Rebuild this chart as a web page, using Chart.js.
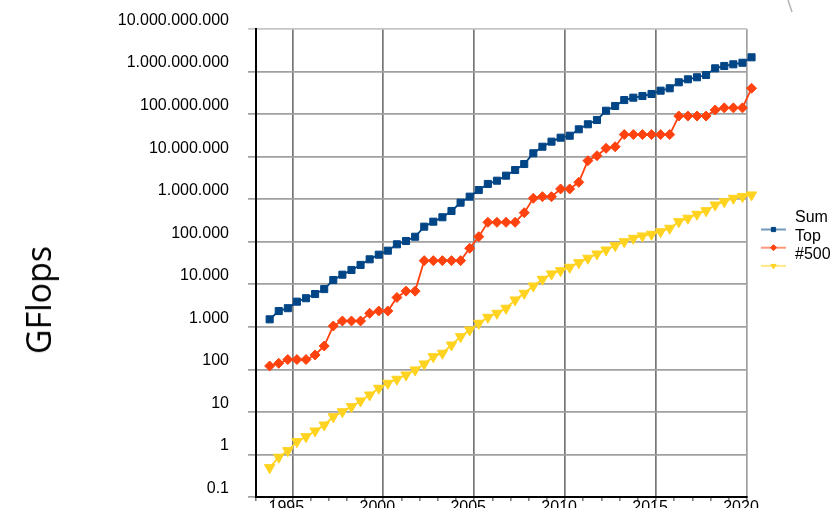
<!DOCTYPE html>
<html>
<head>
<meta charset="utf-8">
<title>TOP500 performance development</title>
<script src="https://cdn.jsdelivr.net/npm/chart.js@4.4.1/dist/chart.umd.min.js"></script>
<style>
  html, body { margin: 0; padding: 0; width: 831px; height: 508px; overflow: hidden; background: #fff; }
  #wrap { position: relative; width: 831px; height: 508px; overflow: hidden; }
  #chart { position: absolute; left: 0; top: 0; }
  #ytitle {
    position: absolute; left: 38px; top: 300px;
    transform: translate(-50%, -50%) rotate(-90deg);
    font-family: "Open Sans", sans-serif; font-size: 34px; line-height: 1;
    color: #000; white-space: nowrap;
  }
</style>
</head>
<body>
<div id="wrap">
  <canvas id="chart" width="831" height="520"></canvas>
  <div id="ytitle">GFlops</div>
</div>
<script>
// TOP500 lists, twice a year: Nov 1993 ... Jun 2020 (54 lists), performance in GFlops
const firstListYear = 1993.75;
const listStep = 0.5;

const sumGflops = [
  1500, 2350, 2740, 3900, 4700, 5900, 7700, 12600, 16800, 21700,
  28500, 38600, 49600, 61600, 87000, 104000, 131000, 226000, 296000, 376000,
  528000, 828000, 1146000, 1640000, 2280000, 2720000, 3570000, 4850000, 6710000, 12000000,
  17100000, 22500000, 27900000, 31000000, 43900000, 57600000, 72700000, 120000000, 155000000, 214000000,
  243000000, 266000000, 297000000, 355000000, 404000000, 559000000, 657000000, 733000000, 829000000, 1190000000,
  1350000000, 1480000000, 1610000000, 2160000000
];

const topGflops = [
  120, 139, 170, 170, 170, 218, 354, 1047, 1372, 1372,
  1372, 2080, 2350, 2350, 4900, 6900, 6900, 35900, 35900, 35900,
  35900, 35900, 70200, 131500, 286000, 286000, 286000, 286000, 482000, 1050000,
  1146000, 1146000, 1740000, 1740000, 2490000, 8030000, 10500000, 15700000, 17100000, 33000000,
  33000000, 33000000, 33000000, 33000000, 33000000, 90000000, 90000000, 90000000, 90000000, 125000000,
  140000000, 140000000, 140000000, 404000000
];

const lastGflops = [
  0.49, 0.86, 1.23, 2.0, 2.62, 3.56, 4.93, 7.7, 10.1, 13.3,
  18.1, 25.0, 36.0, 47.1, 58.5, 73.8, 96.8, 134, 199, 239,
  374, 586, 843, 1210, 1675, 2080, 2730, 4280, 6140, 9120,
  13100, 17500, 20900, 25100, 32200, 40900, 51500, 64000, 80800, 100000,
  120500, 136500, 149600, 172000, 207000, 296000, 356000, 442000, 537000, 731000,
  873000, 1050000, 1150000, 1260000
];

const seriesNames = ['Sum', 'Top', '#500'];
const seriesColors = ['#004586', '#ff420e', '#ffd320'];

// axis ticks
const yearMin = 1993;
const yearMax = 2020;
const yearLabels = { 1995: '1995', 2000: '2000', 2005: '2005', 2010: '2010', 2015: '2015', 2020: '2020' };
const gflopTicks = [0.1, 1, 10, 100, 1e3, 1e4, 1e5, 1e6, 1e7, 1e8, 1e9, 1e10];
const gflopLabels = ['0.1', '1', '10', '100', '1.000', '10.000', '100.000', '1.000.000',
  '10.000.000', '100.000.000', '1.000.000.000', '10.000.000.000'];

const toPoints = (values) => values.map((v, i) => ({ x: firstListYear + i * listStep, y: v }));

// legend at the right: a short line with the series marker, names stacked beside it
const sideLegend = {
  id: 'sideLegend',
  afterDraw(chart, args, opts) {
    const ctx = chart.ctx;
    chart.data.datasets.forEach((ds, i) => {
      const y = opts.top + i * opts.rowGap;
      const cx = opts.left + opts.lineLength / 2;
      ctx.save();
      ctx.globalAlpha = 0.55;
      ctx.strokeStyle = ds.borderColor;
      ctx.lineWidth = 2;
      ctx.beginPath();
      ctx.moveTo(opts.left, y);
      ctx.lineTo(opts.left + opts.lineLength, y);
      ctx.stroke();
      ctx.globalAlpha = 1;
      ctx.fillStyle = ds.backgroundColor;
      ctx.strokeStyle = ds.borderColor;
      ctx.lineWidth = 1;
      Chart.helpers.drawPoint(ctx, {
        pointStyle: ds.pointStyle, rotation: ds.pointRotation || 0,
        radius: opts.markerRadius, borderWidth: 1
      }, cx, y);
      ctx.fillStyle = '#000';
      ctx.font = '16px "Liberation Sans", Arial, sans-serif';
      ctx.textBaseline = 'middle';
      ctx.textAlign = 'left';
      ctx.fillText(ds.label, opts.textX, y - opts.textRise);
      ctx.restore();
    });
    // thin grey stroke at the top right of the slide
    ctx.save();
    ctx.strokeStyle = '#b4b4b4';
    ctx.lineWidth = 1.5;
    ctx.beginPath();
    ctx.moveTo(788, 0);
    ctx.lineTo(792, 12);
    ctx.stroke();
    ctx.restore();
  }
};

const common = { borderWidth: 1.8, pointBorderWidth: 1, clip: false, tension: 0 };

new Chart(document.getElementById('chart'), {
  type: 'line',
  data: {
    datasets: [
      Object.assign({}, common, {
        label: seriesNames[0], data: toPoints(sumGflops),
        borderColor: seriesColors[0], backgroundColor: seriesColors[0],
        pointStyle: 'rect', pointRadius: 5
      }),
      Object.assign({}, common, {
        label: seriesNames[1], data: toPoints(topGflops),
        borderColor: seriesColors[1], backgroundColor: seriesColors[1],
        pointStyle: 'rectRot', pointRadius: 5
      }),
      Object.assign({}, common, {
        label: seriesNames[2], data: toPoints(lastGflops),
        borderColor: seriesColors[2], backgroundColor: seriesColors[2],
        pointStyle: 'triangle', pointRotation: 180, pointRadius: 6
      })
    ]
  },
  options: {
    responsive: false,
    animation: false,
    events: [],
    layout: { padding: { top: 29, right: 84, bottom: 0, left: 0 } },
    plugins: {
      legend: { display: false },
      tooltip: { enabled: false },
      sideLegend: { left: 761, lineLength: 25, top: 229.5, rowGap: 18.2, textX: 795, textRise: 11.5, markerRadius: 3 }
    },
    scales: {
      x: {
        type: 'linear',
        min: yearMin,
        max: yearMax,
        afterBuildTicks(scale) {
          const t = [];
          for (let y = yearMin; y <= yearMax; y++) t.push({ value: y });
          scale.ticks = t;
        },
        afterFit(scale) { scale.height = 23; },
        border: { color: '#000', width: 2 },
        grid: {
          color(ctx) {
            const v = ctx.tick && ctx.tick.value;
            if (v === yearMax) return '#a0a0a0';
            return v % 5 === 0 ? '#767676' : 'rgba(0,0,0,0)';
          },
          lineWidth: 1.7,
          tickColor: '#555',
          tickWidth: 1.2,
          tickLength: 4
        },
        ticks: {
          autoSkip: false,
          maxRotation: 0,
          padding: -1,
          labelOffset: -6,
          color: '#000',
          font: { family: '"Liberation Sans", Arial, sans-serif', size: 16, lineHeight: 1 },
          callback: (v) => yearLabels[v] || ''
        }
      },
      y: {
        type: 'logarithmic',
        min: 0.1,
        max: 1e10,
        afterBuildTicks(scale) { scale.ticks = gflopTicks.map(v => ({ value: v })); },
        afterFit(scale) {
          scale.width = 256;
          scale.paddingTop = 0;
          scale.paddingBottom = 0;
        },
        border: { color: '#000', width: 2 },
        grid: {
          color(ctx) {
            const v = ctx.tick && ctx.tick.value;
            return v === 1e10 ? '#c6c6c6' : '#a0a0a0';
          },
          lineWidth: 1.7,
          tickLength: 8
        },
        ticks: {
          autoSkip: false,
          padding: 19,
          labelOffset: -8.5,
          color: '#000',
          font: { family: '"Liberation Sans", Arial, sans-serif', size: 16, lineHeight: 1.2 },
          callback: (v, i) => gflopLabels[i]
        }
      }
    }
  },
  plugins: [sideLegend]
});
</script>
</body>
</html>
